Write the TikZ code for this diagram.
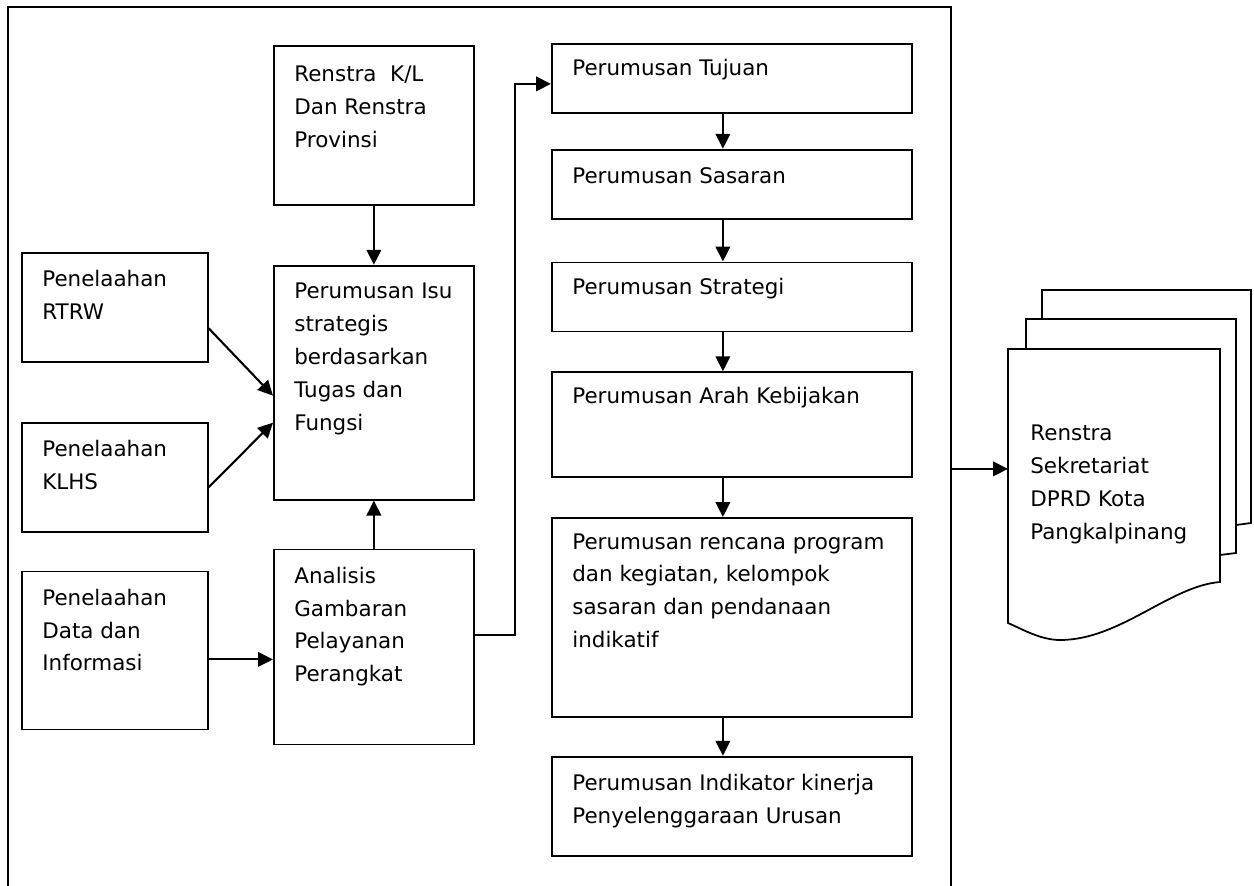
\documentclass[tikz,border=0pt]{standalone}
\usepackage{fontspec}
\setmainfont{DejaVu Sans}
\usepackage{tikz}
\usetikzlibrary{calc}
\usetikzlibrary{arrows.meta, positioning}
\def\boxfont{\fontsize{12.2}{18.7}\selectfont}

\begin{document}
\begin{tikzpicture}[x=0.2mm, y=-0.2mm,
    arr/.style = {-{Triangle[length=3mm, width=2.9mm]}, line width=1.2pt},
    box/.style = {rectangle, draw, line width=1pt, anchor=north west,
                  inner sep=0pt, minimum width=72mm},
    txt/.style = {anchor=north west, align=left, inner sep=0pt,
                  font=\boxfont, xshift=4.2mm, yshift=-3.6mm}
]
\path[use as bounding box, clip] (0,0) rectangle (1254,886);

% outer frame
\node (frame) [box, minimum width=188.6mm, minimum height=180mm] at (7,6) {};

% middle column
\node (renstra) [box, minimum width=40mm, minimum height=31.8mm,
    label={[txt, yshift=-0.6mm]north west:{Renstra\ \ K/L\\Dan Renstra\\Provinsi}}] at (273,45) {};
\node (isu) [box, minimum width=40mm, minimum height=46.8mm, below=11.8mm of renstra,
    label={[txt]north west:{Perumusan Isu\\strategis\\berdasarkan\\Tugas dan\\Fungsi}}] {};
\node (analisis) [box, minimum width=40mm, minimum height=39mm, below=9.6mm of isu,
    label={[txt]north west:{Analisis\\Gambaran\\Pelayanan\\Perangkat}}] {};

% left column
\node (rtrw) [box, minimum width=37.2mm, minimum height=21.8mm,
    label={[txt]north west:{Penelaahan\\RTRW}}] at (21,252) {};
\node (klhs) [box, minimum width=37.2mm, minimum height=21.8mm, below=11.8mm of rtrw,
    label={[txt]north west:{Penelaahan\\KLHS}}] {};
\node (data) [box, minimum width=37.2mm, minimum height=31.6mm, below=7.6mm of klhs,
    label={[txt]north west:{Penelaahan\\Data dan\\Informasi}}] {};

% right column
\node (tujuan) [box, minimum height=13.8mm,
    label={[txt, yshift=0.4mm]north west:{Perumusan Tujuan}}] at (551,43) {};
\node (sasaran) [box, minimum height=13.8mm, below=7mm of tujuan,
    label={[txt]north west:{Perumusan Sasaran}}] {};
\node (strategi) [box, minimum height=13.8mm, below=8.4mm of sasaran,
    label={[txt, yshift=0.4mm]north west:{Perumusan Strategi}}] {};
\node (arah) [box, minimum height=21mm, below=7.8mm of strategi,
    label={[txt, yshift=0.4mm]north west:{Perumusan Arah Kebijakan}}] {};
\node (rencana) [box, minimum height=39.8mm, below=7.8mm of arah,
    label={[txt, yshift=0.4mm]north west:{Perumusan rencana program\\dan kegiatan, kelompok\\sasaran dan pendanaan\\indikatif}}] {};
\node (indikator) [box, minimum height=19.8mm, below=7.6mm of rencana,
    label={[txt]north west:{Perumusan Indikator kinerja\\Penyelenggaraan Urusan}}] {};

% document stack
\node (docpage) [box, draw=none, minimum width=42.4mm, minimum height=47.6mm,
    label={[txt, xshift=0.2mm, yshift=-11.6mm]north west:{Renstra\\Sekretariat\\DPRD Kota\\Pangkalpinang}}] at (1008,349) {};
\draw[line width=1pt] (1042,319) -- (1042,290) -- (1251,290) -- (1251,523) -- (1236,525);
\draw[line width=1pt] (1026,349) -- (1026,319) -- (1236,319) -- (1236,553) -- (1220,555);
\draw[line width=1pt] (1008,349) -- (1220,349) -- (1220,582)
    .. controls (1170,586) and (1120,640) .. (1060,640)
    .. controls (1040,640) and (1020,628) .. (1008,623) -- cycle;

\draw[arr] (renstra) -- (isu);
\draw[arr] ($(rtrw.east)+(0,21)$) -- ($(isu.west)+(0,13)$);
\draw[arr] ($(klhs.east)+(0,10)$) -- ($(isu.west)+(0,40)$);
\draw[arr] (analisis) -- (isu);
\draw[arr] ([yshift=-1.8mm]data.east) -- ([yshift=-1.8mm]data.east -| analisis.west);
\draw[arr] ([yshift=2.4mm]analisis.east) -- ++(40,0) |- ([yshift=-1.1mm]tujuan.west);

\draw[arr] ([xshift=-1.8mm]tujuan.south) -- ([xshift=-1.8mm]sasaran.north);
\draw[arr] ([xshift=-1.8mm]sasaran.south) -- ([xshift=-1.8mm]strategi.north);
\draw[arr] ([xshift=-1.8mm]strategi.south) -- ([xshift=-1.8mm]arah.north);
\draw[arr] ([xshift=-1.8mm]arah.south) -- ([xshift=-1.8mm]rencana.north);
\draw[arr] ([xshift=-1.8mm]rencana.south) -- ([xshift=-1.8mm]indikator.north);

\draw[arr] (frame.east |- docpage.west) -- (docpage.west);

\end{tikzpicture}
\end{document}
